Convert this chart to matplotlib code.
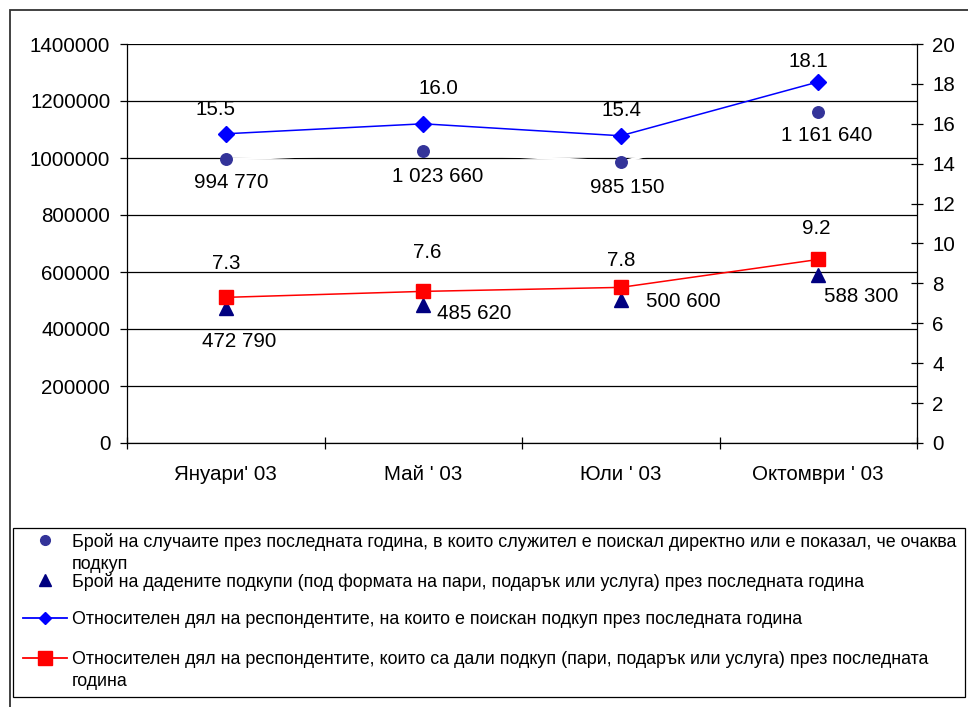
import matplotlib.pyplot as plt
from matplotlib.lines import Line2D
from matplotlib.patches import Rectangle
from matplotlib.ticker import MultipleLocator, FixedLocator, FormatStrFormatter

plt.rcParams['font.family'] = ['Liberation Sans', 'DejaVu Sans']

# =============================
# Data
# =============================
months = ["Януари' 03", "Май ' 03", "Юли ' 03", "Октомври ' 03"]
cases_asked = [994770, 1023660, 985150, 1161640]
bribes_given = [472790, 485620, 500600, 588300]
share_asked = [15.5, 16.0, 15.4, 18.1]
share_given = [7.3, 7.6, 7.8, 9.2]

cases_labels = ["994 770", "1 023 660", "985 150", "1 161 640"]
bribes_labels = ["472 790", "485 620", "500 600", "588 300"]

legend_labels = [
    "Брой на случаите през последната година, в които служител е поискал директно или е показал, че очаква\nподкуп",
    "Брой на дадените подкупи (под формата на пари, подарък или услуга) през последната година",
    "Относителен дял на респондентите, на които е поискан подкуп през последната година",
    "Относителен дял на респондентите, които са дали подкуп (пари, подарък или услуга) през последната\nгодина",
]

# label offsets in pixels (manually placed in the original)
off_asked = [(-10, 24), (15, 35), (1, 25), (-10, 20)]
off_cases = [(5, -23), (14, -25), (7, -25), (8, -24)]
off_given = [(0, 34), (4, 39), (0, 27), (-2, 31)]
off_bribes = [(13, -33), (51, -9), (63, -1), (43, -21)]

W, H = 968, 707
fig = plt.figure(figsize=(W / 100, H / 100), dpi=100)
ax = fig.add_axes([127 / W, 1 - 443 / H, (917 - 127) / W, (443 - 44) / H])
ax2 = ax.twinx()

x = list(range(len(months)))
FS = 14.8

# =============================
# Left axis: counts
# =============================
ax.set_ylim(0, 1400000)
ax.set_xlim(-0.5, 3.5)
ax.yaxis.set_major_locator(MultipleLocator(200000))
ax.yaxis.set_major_formatter(FormatStrFormatter('%d'))
ax.yaxis.grid(True, color='black', lw=0.9)
ax.set_axisbelow(True)
ax.plot(x, cases_asked, color='white', lw=2, marker='o', ms=8.3,
        mfc='#333399', mec='#333399', zorder=3)
ax.plot(x, bribes_given, color='white', lw=2, marker='^', ms=10,
        mfc='#000080', mec='#000080', zorder=3)
for i in x:
    ax.annotate(cases_labels[i], (i, cases_asked[i]), xytext=off_cases[i],
                textcoords='offset pixels', ha='center', va='center', fontsize=FS)
    ax.annotate(bribes_labels[i], (i, bribes_given[i]), xytext=off_bribes[i],
                textcoords='offset pixels', ha='center', va='center', fontsize=FS)

ax.set_xticks(x)
ax.set_xticklabels(months, fontsize=FS)
ax.xaxis.set_minor_locator(FixedLocator([-0.5, 0.5, 1.5, 2.5, 3.5]))
ax.tick_params(axis='x', which='major', length=0, pad=16)
ax.tick_params(axis='x', which='minor', direction='inout', length=9, width=0.9)
ax.tick_params(axis='y', direction='out', length=5, width=0.9, labelsize=FS, pad=7)
for s in ['top', 'right']:
    ax.spines[s].set_visible(False)
for s in ['left', 'bottom']:
    ax.spines[s].set_linewidth(0.9)

# =============================
# Right axis: percentages
# =============================
ax2.set_ylim(0, 20)
ax2.yaxis.set_major_locator(MultipleLocator(2))
ax2.plot(x, share_asked, color='#0000FF', lw=1.1, marker='D', ms=7.8, zorder=3)
ax2.plot(x, share_given, color='#FF0000', lw=1.1, marker='s', ms=10.5, zorder=3)
for i in x:
    ax2.annotate(f"{share_asked[i]:.1f}", (i, share_asked[i]), xytext=off_asked[i],
                 textcoords='offset pixels', ha='center', va='center', fontsize=FS)
    ax2.annotate(f"{share_given[i]:.1f}", (i, share_given[i]), xytext=off_given[i],
                 textcoords='offset pixels', ha='center', va='center', fontsize=FS)
ax2.tick_params(axis='y', direction='inout', length=8, width=0.9, labelsize=FS, pad=7)
for s in ['top', 'left', 'bottom']:
    ax2.spines[s].set_visible(False)
ax2.spines['right'].set_linewidth(0.9)

# =============================
# Borders and legend (figure pixels)
# =============================
def fx(px):
    return px / W


def fy(py):
    return 1 - py / H


fig.add_artist(Rectangle((fx(10), fy(720)), fx(980) - fx(10), fy(10) - fy(720),
                         transform=fig.transFigure, fill=False, ec='#333333', lw=1.3))
fig.add_artist(Rectangle((fx(13), fy(697)), fx(965) - fx(13), fy(528) - fy(697),
                         transform=fig.transFigure, fill=False, ec='black', lw=0.9))

row_y = [540, 580, 618, 658]
LFS = 12.9
fig.add_artist(Line2D([fx(45)], [fy(row_y[0])], transform=fig.transFigure,
                      marker='o', ms=7, color='#333399', lw=0))
fig.add_artist(Line2D([fx(45)], [fy(row_y[1])], transform=fig.transFigure,
                      marker='^', ms=8.5, color='#000080', lw=0))
fig.add_artist(Line2D([fx(23), fx(67)], [fy(row_y[2])] * 2, transform=fig.transFigure,
                      color='#0000FF', lw=1.3))
fig.add_artist(Line2D([fx(45)], [fy(row_y[2])], transform=fig.transFigure,
                      marker='D', ms=6, color='#0000FF', lw=0))
fig.add_artist(Line2D([fx(23), fx(67)], [fy(row_y[3])] * 2, transform=fig.transFigure,
                      color='#FF0000', lw=1.3))
fig.add_artist(Line2D([fx(45)], [fy(row_y[3])], transform=fig.transFigure,
                      marker='s', ms=10.5, color='#FF0000', lw=0))
for lab, ry in zip(legend_labels, row_y):
    fig.text(fx(72), fy(ry - 7), lab, ha='left', va='top', fontsize=LFS,
             linespacing=1.4)

fig.savefig("out.png", dpi=100)
